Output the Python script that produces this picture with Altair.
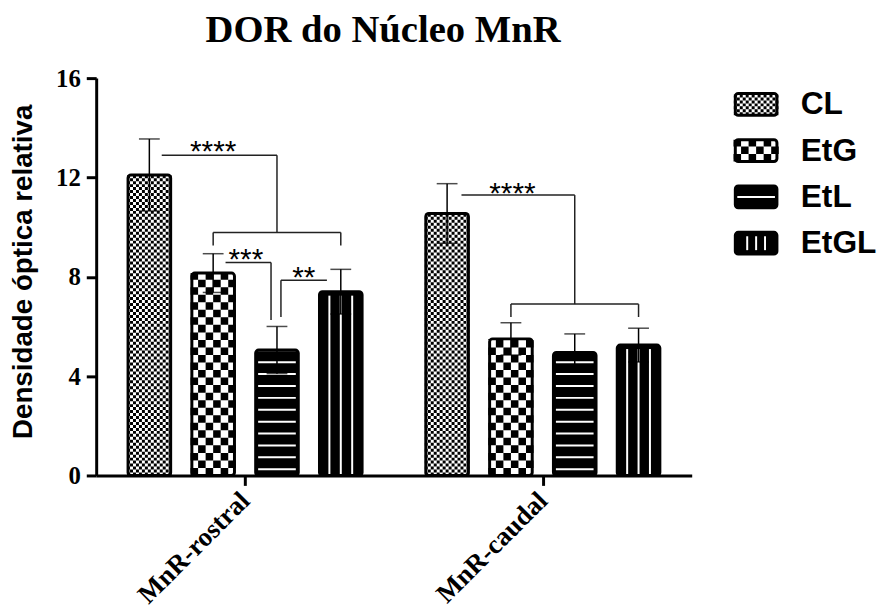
import altair as alt
import pandas as pd

# ---------------- data ----------------
groups = ["MnR-rostral", "MnR-caudal"]
series = ["CL", "EtG", "EtL", "EtGL"]
mean_rostral = [12.1, 8.15, 5.05, 7.4]
err_rostral = [1.45, 0.78, 0.95, 0.9]
mean_caudal = [10.55, 5.5, 4.95, 5.25]
err_caudal = [1.2, 0.65, 0.75, 0.68]
y_ticks = [0, 4, 8, 12, 16]
chart_title = "DOR do Núcleo MnR"
y_title = "Densidade óptica relativa"

# significance: bracket levels (data units) and labels
sig_labels = ["****", "***", "**", "****"]
sig_text_y = [12.65, 8.30, 7.58, 10.97]
rostral_main_levels = [12.89, 9.78, 9.26]
rostral_etg_etl_levels = [8.58, 6.26]
rostral_etl_etgl_levels = [7.86, 6.38]
caudal_main_levels = [11.29, 6.90, 6.38]

# ---------------- layout constants ----------------
W, H = 601, 401
PX_X = W / 2.0        # px per x unit (domain 0..2)
PX_Y = H / 16.0       # px per y unit
STEP_PX = 64.4        # bar step inside a group
BAR_PX = 43           # bar geometry width
STEP_U = STEP_PX / PX_X


def ux(px):
    return px / PX_X


def uy(px):
    return px / PX_Y


def bx(g, i, dpx=0.0):
    return g + 0.5 + (i - 1.5) * STEP_U + ux(dpx)


XS = alt.Scale(domain=[0, 2], nice=False, zero=False)
YS = alt.Scale(domain=[0, 16], nice=False, zero=False)

XAXIS = alt.Axis(
    values=[0.5, 1.5],
    labelExpr="['" + "','".join(groups) + "'][floor(datum.value)]",
    title=None, labelAngle=-45, labelAlign="right", labelBaseline="middle",
    labelFont="Liberation Serif", labelFontWeight="bold", labelFontSize=27,
    labelColor="black", labelPadding=11, tickSize=10, tickWidth=3, tickColor="black",
    domainWidth=3, domainColor="black", grid=False, zindex=1,
)
YAXIS = alt.Axis(
    values=y_ticks, format="d", title=y_title,
    labelFont="Liberation Serif", labelFontWeight="bold", labelFontSize=25,
    labelColor="black", labelPadding=6, tickSize=10, tickWidth=3, tickColor="black",
    domainWidth=3, domainColor="black", grid=False, zindex=1,
    titleFont="Liberation Sans", titleFontWeight="bold", titleFontSize=28,
    titleColor="black", titleX=-65, titleY=195, titleBaseline="alphabetic",
    titleAlign="center", titleAngle=270,
)


def X(f):
    return alt.X(f, type="quantitative", scale=XS, axis=XAXIS)


def Y(f):
    return alt.Y(f, type="quantitative", scale=YS, axis=YAXIS)


# ---------------- boxes (bars + legend swatches) ----------------
rows = []
for g, (means, errs) in enumerate([(mean_rostral, err_rostral), (mean_caudal, err_caudal)]):
    for i, s in enumerate(series):
        xc = bx(g, i)
        rows.append(dict(group=groups[g], series=s, kind="bar", xc=xc,
                         x1=xc - ux(BAR_PX / 2), x2=xc + ux(BAR_PX / 2),
                         y0=0.0, y1=means[i], lo=means[i] - errs[i], hi=means[i] + errs[i]))

LEG_XC_PX = 666.0            # swatch centre, px right of plot left
LEG_ROW0_PX = 26.5           # first swatch centre, px below plot top
LEG_ROW_STEP_PX = 46.7
LEG_W_PX, LEG_H_PX = 42, 22
leg_rows = []
for i, s in enumerate(series):
    yc = 16 - uy(LEG_ROW0_PX + LEG_ROW_STEP_PX * i)
    xc = ux(LEG_XC_PX)
    rows.append(dict(group="legend", series=s, kind="legend", xc=xc,
                     x1=xc - ux(LEG_W_PX / 2), x2=xc + ux(LEG_W_PX / 2),
                     y0=yc - uy(LEG_H_PX / 2), y1=yc + uy(LEG_H_PX / 2), lo=None, hi=None))
    leg_rows.append(dict(label=s, x=ux(LEG_XC_PX + 45), y=yc))
boxes = pd.DataFrame(rows)
leg_df = pd.DataFrame(leg_rows)
bars = boxes[boxes.kind == "bar"].copy()

# pattern helper rows
chk = []
for _, b in boxes.iterrows():
    if b.series in ("CL", "EtG"):
        cell = 3.0 if b.series == "CL" else 7.6
        n = 15 if b.series == "CL" else 6
        for k in range(n):
            chk.append(dict(series=b.series, parity=k % 2,
                            x=b.xc + ux(-n * cell / 2 + (k + 0.5) * cell), y0=b.y0, y1=b.y1))
chk = pd.DataFrame(chk)

vlines = []
for _, b in boxes.iterrows():
    if b.series == "EtGL":
        d = 11.5 if b.kind == "bar" else 9.0
        top = b.y1 - uy(4)
        bot = b.y0 if b.kind == "bar" else b.y0 + uy(4)
        for off in (-d, 0, d):
            vlines.append(dict(x=b.xc + ux(off), y0=bot, y1=top))
vlines = pd.DataFrame(vlines)

etl_bars = boxes[(boxes.series == "EtL") & (boxes.kind == "bar")].copy()
etl_leg = boxes[(boxes.series == "EtL") & (boxes.kind == "legend")].copy()
etl_leg["xa"] = etl_leg.xc - ux(19)
etl_leg["xb"] = etl_leg.xc + ux(19)
etl_leg["ym"] = (etl_leg.y0 + etl_leg.y1) / 2

# ---------------- layers ----------------
fill_scale = alt.Scale(domain=series, range=["white", "white", "black", "black"])

base_fill = alt.Chart(boxes).mark_rect(cornerRadius=3).encode(
    x=X("x1"), x2="x2", y=Y("y0"), y2="y1",
    fill=alt.Fill("series:N", scale=fill_scale, legend=None),
)


def checker(s, parity, cell):
    return alt.Chart(chk).transform_filter(
        (alt.datum.series == s) & (alt.datum.parity == parity)
    ).mark_rule(color="black", strokeWidth=cell, strokeDash=[cell, cell],
                strokeDashOffset=cell * parity).encode(x=X("x"), y=Y("y0"), y2="y1")


chk_layers = [checker("CL", 0, 3.0), checker("CL", 1, 3.0),
              checker("EtG", 0, 7.6), checker("EtG", 1, 7.6)]

etl_lines = alt.Chart(etl_bars).mark_rule(
    color="white", strokeWidth=38, strokeDash=[2, 10], strokeDashOffset=6.7
).encode(x=X("xc"), y=Y("y0"), y2="y1")

etl_leg_line = alt.Chart(etl_leg).mark_rule(color="white", strokeWidth=2).encode(
    x=X("xa"), x2="xb", y=Y("ym"))

etgl_lines = alt.Chart(vlines).mark_rule(color="white", strokeWidth=2).encode(
    x=X("x"), y=Y("y0"), y2="y1")

outline = alt.Chart(boxes).mark_rect(
    cornerRadius=3, fillOpacity=0, stroke="black", strokeWidth=3
).encode(x=X("x1"), x2="x2", y=Y("y0"), y2="y1")

err_rule = alt.Chart(bars).mark_rule(color="black", strokeWidth=1.5).encode(
    x=X("xc"), y=Y("lo"), y2="hi")
err_cap_hi = alt.Chart(bars).mark_tick(
    color="black", orient="horizontal", size=21, thickness=1.5).encode(x=X("xc"), y=Y("hi"))
err_cap_lo = alt.Chart(bars).mark_tick(
    color="black", orient="horizontal", size=21, thickness=1.5).encode(x=X("xc"), y=Y("lo"))

# brackets
segs = []
a, b_, c = rostral_main_levels
segs += [
    (bx(0, 0, 12.5), bx(0, 2), a, a), (bx(0, 2), bx(0, 2), a, b_),
    (bx(0, 1), bx(0, 3), b_, b_), (bx(0, 1), bx(0, 1), b_, c), (bx(0, 3), bx(0, 3), b_, c),
]
a, b_ = rostral_etg_etl_levels
segs += [(bx(0, 1, 12.5), bx(0, 2, -6), a, a), (bx(0, 2, -6), bx(0, 2, -6), a, b_)]
a, b_ = rostral_etl_etgl_levels
segs += [(bx(0, 2, 4), bx(0, 3, -14), a, a), (bx(0, 2, 4), bx(0, 2, 4), a, b_)]
a, b_, c = caudal_main_levels
segs += [
    (bx(1, 0, 14.5), bx(1, 2), a, a), (bx(1, 2), bx(1, 2), a, b_),
    (bx(1, 1), bx(1, 3), b_, b_), (bx(1, 1), bx(1, 1), b_, c), (bx(1, 3), bx(1, 3), b_, c),
]
seg_df = pd.DataFrame(segs, columns=["xa", "xb", "ya", "yb"])
brackets = alt.Chart(seg_df).mark_rule(color="#222222", strokeWidth=1.5).encode(
    x=X("xa"), x2="xb", y=Y("ya"), y2="yb")

sig_df = pd.DataFrame(dict(
    label=sig_labels,
    x=[bx(0, 1), bx(0, 1, 33), bx(0, 2, 27), bx(1, 1, 1.5)],
    y=sig_text_y,
))
sig_text = alt.Chart(sig_df).mark_text(
    font="Liberation Sans", fontSize=30, color="black", align="center", baseline="alphabetic"
).encode(x=X("x"), y=Y("y"), text="label:N")

leg_text = alt.Chart(leg_df).mark_text(
    font="Liberation Sans", fontSize=32, fontWeight="bold", color="black",
    align="left", baseline="middle"
).encode(x=X("x"), y=Y("y"), text="label:N")

chart = alt.layer(
    base_fill, *chk_layers, etl_lines, etl_leg_line, etgl_lines, outline,
    err_rule, err_cap_hi, err_cap_lo, brackets, sig_text, leg_text,
).properties(
    width=W, height=H,
    title=alt.TitleParams(chart_title, font="Liberation Serif", fontSize=39,
                          fontWeight="bold", color="black", anchor="middle", dx=-11, dy=-12),
    autosize=alt.AutoSizeParams(type="none"),
    padding={"left": 89, "top": 68, "right": 188, "bottom": 133},
).configure_view(stroke=None)

chart.save("out.html", embed_options={"renderer": "svg", "actions": False})
